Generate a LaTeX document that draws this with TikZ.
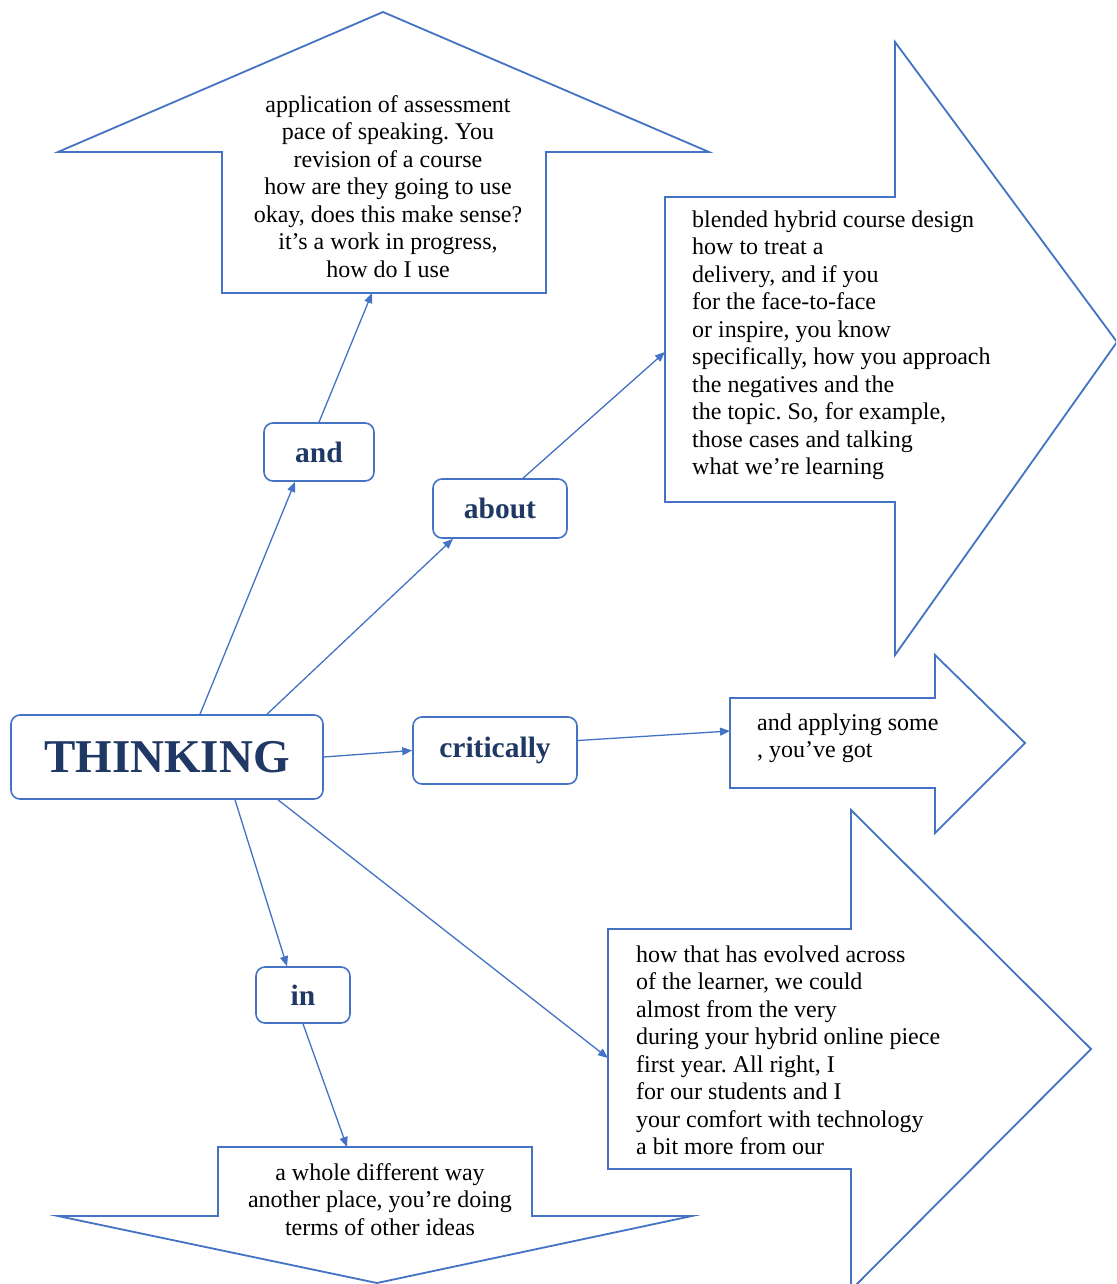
\documentclass[tikz,border=0pt]{standalone}
\usepackage{fontspec}
\setmainfont{Liberation Serif}
\usetikzlibrary{arrows.meta,calc}
\definecolor{lnblue}{HTML}{4472C4}
\definecolor{navy}{HTML}{1F3864}
\frenchspacing
\begin{document}
\begin{tikzpicture}[x=1pt,y=-1pt,
  shapeline/.style={draw=lnblue,line width=1.8pt,line join=miter},
  lblbox/.style={draw=lnblue,line width=1.6pt,rounded corners=9pt,text=navy,inner sep=0pt,
    font=\fontsize{29.5}{34}\selectfont\bfseries},
  conn/.style={draw=lnblue,line width=1.3pt,-{Triangle[length=10pt,width=8pt]}},
  bodytext/.style={inner sep=0pt,text=black,font=\fontsize{24}{27.5}\selectfont\frenchspacing},
]
\useasboundingbox (0,0) rectangle (1116,1284);
\fill[white] (0,0) rectangle (1116,1284);
\clip (0,0) rectangle (1116,1284);

% block arrows
\draw[shapeline] (222,293) -- (222,152) -- (58,152) -- (383,12) -- (709,152) -- (546,152) -- (546,293) -- cycle;
\draw[shapeline] (665,197) -- (895,197) -- (895,42) -- (1117,342) -- (895,655) -- (895,502) -- (665,502) -- cycle;
\draw[shapeline] (730,698) -- (935,698) -- (935,655) -- (1025,743) -- (935,833) -- (935,788) -- (730,788) -- cycle;
\draw[shapeline] (608,929) -- (851,929) -- (851,810) -- (1091,1049) -- (851,1290) -- (851,1169) -- (608,1169) -- cycle;
\draw[shapeline] (218,1147) -- (532,1147) -- (532,1216) -- (692,1216) -- (377,1283) -- (58,1216) -- (218,1216) -- cycle;

\coordinate (upin) at (372,293);
\coordinate (r1in) at (665,352);
\coordinate (r2in) at (730,731);
\coordinate (r3in) at (608,1058);
\coordinate (dnin) at (347,1147);

% texts in block arrows
\node[bodytext,align=center,anchor=north] (uptext) at (388,92.75) {\strut application of assessment\\pace of speaking. You\\revision of a course\\how are they going to use\\okay, does this make sense?\\it’s a work in progress,\\how do I use};
\node[bodytext,align=left,anchor=north west] (r1text) at (692,207.75) {\strut blended hybrid course design\\how to treat a\\delivery, and if you\\for the face-to-face\\or inspire, you know\\specifically, how you approach\\the negatives and the\\the topic. So, for example,\\those cases and talking\\what we’re learning};
\node[bodytext,align=left,anchor=north west] (r2text) at (757,710.75) {\strut and applying some\\, you’ve got};
\node[bodytext,align=left,anchor=north west] (r3text) at (636,942.75) {\strut how that has evolved across\\of the learner, we could\\almost from the very\\during your hybrid online piece\\first year. All right, I\\for our students and I\\your comfort with technology\\a bit more from our};
\node[bodytext,align=center,anchor=north] (dntext) at (380,1160.75) {\strut a whole different way\\another place, you’re doing\\terms of other ideas};

% label boxes
\node[lblbox,minimum width=312pt,minimum height=84pt,font=\fontsize{47}{52}\selectfont\bfseries] (think) at (167,757) {THINKING};
\node[lblbox,minimum width=110pt,minimum height=58pt] (and) at (319,452) {and};
\node[lblbox,minimum width=134pt,minimum height=59pt] (about) at (500,508.5) {about};
\node[lblbox,minimum width=164pt,minimum height=67pt] (crit) at (495,750.5) {critically};
\node[lblbox,minimum width=94pt,minimum height=56pt] (in) at (303,995) {in};

% connectors
\draw[conn] ($(think.north)+(33,0)$) -- ($(and.south)+(-24,0)$);
\draw[conn] (and.north) -- (upin);
\draw[conn] ($(think.north)+(100,0)$) -- ($(about.south)+(-47,0)$);
\draw[conn] ($(about.north)+(23,0)$) -- (r1in);
\draw[conn] (think.east) -- (crit.west);
\draw[conn] ($(crit.east)+(0,-10)$) -- (r2in);
\draw[conn] ($(think.south)+(68,0)$) -- ($(in.north)+(-16,0)$);
\draw[conn] (in.south) -- (dnin);
\draw[conn] ($(think.south)+(111,0)$) -- (r3in);
\end{tikzpicture}
\end{document}
